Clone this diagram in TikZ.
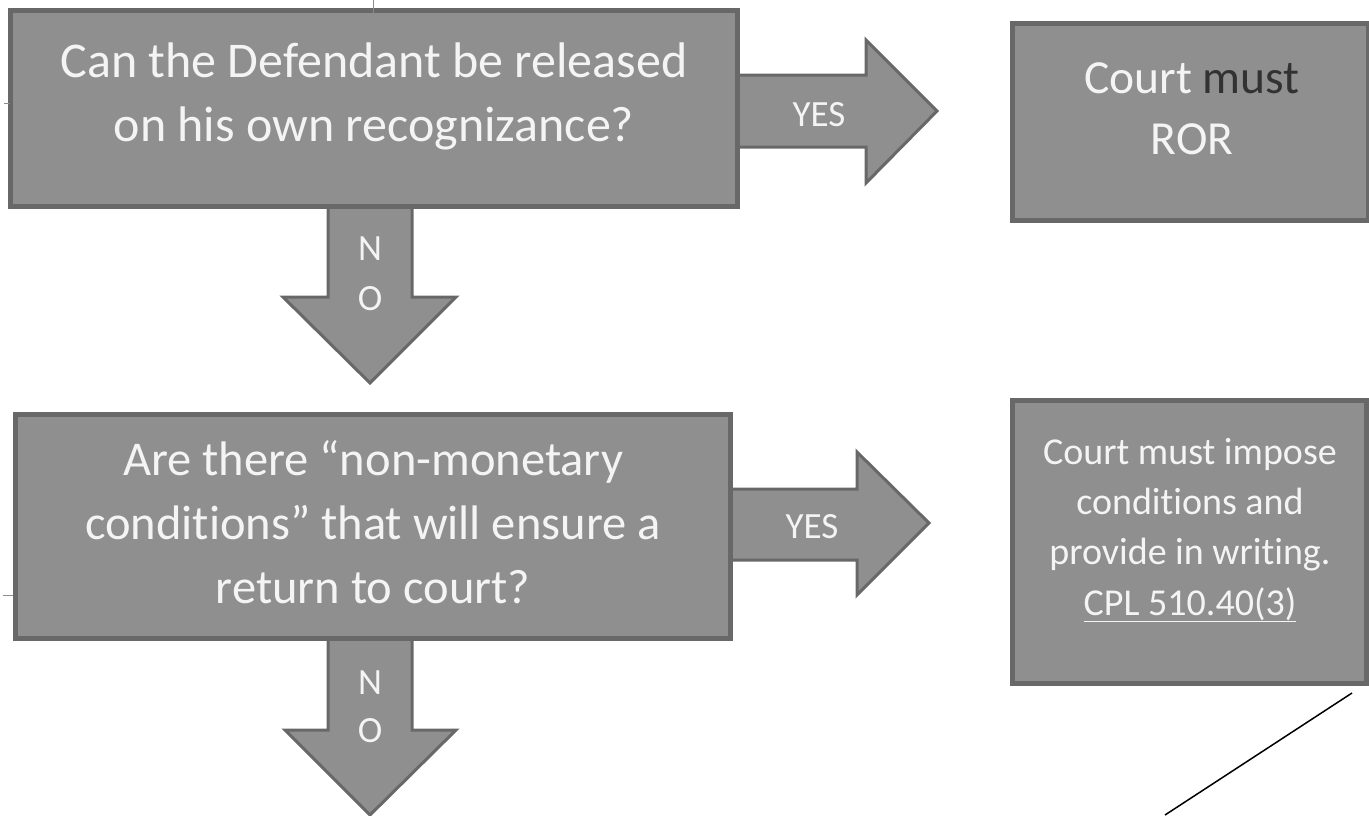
\documentclass[tikz,border=0pt]{standalone}
\usepackage{fontspec}
\setmainfont{Carlito}[Ligatures=NoCommon]
\begin{document}
\definecolor{boxfill}{RGB}{143,143,143}
\definecolor{boxline}{RGB}{104,104,104}
\definecolor{boxtext}{RGB}{244,244,244}
\definecolor{darkword}{RGB}{50,50,50}
\definecolor{tickgray}{RGB}{140,140,140}
\begin{tikzpicture}[x=1pt,y=-1pt,
  box/.style={draw=boxline,fill=boxfill,line width=5pt,inner sep=0pt,outer sep=0pt},
  blockarrow/.style={draw=boxline,fill=boxfill,line width=3pt,line join=miter},
  boxtextstyle/.style={text=boxtext,align=center,inner sep=0pt,anchor=base},
  arrowlabel/.style={text=boxtext,inner sep=0pt,font=\fontsize{37}{44}\selectfont},
  strayline/.style={draw=tickgray,line width=1pt}]
\useasboundingbox (0,0) rectangle (1369,815);

% block arrows between the decision boxes and the outcomes
\draw[blockarrow] (737,75) -- (866,75) -- (866,40) -- (937,111) -- (866,183) -- (866,147) -- (737,147) -- cycle;
\draw[blockarrow] (730,489) -- (857,489) -- (857,452) -- (929,523) -- (857,595) -- (857,560) -- (730,560) -- cycle;
\draw[blockarrow] (328,206) -- (328,297) -- (283,297) -- (370,383) -- (456,297) -- (412,297) -- (412,206) -- cycle;
\draw[blockarrow] (328,638) -- (328,730) -- (285,730) -- (370,815) -- (456,730) -- (412,730) -- (412,638) -- cycle;

% decision and outcome boxes
\node[box,minimum width=727pt,minimum height=196pt] (q1) at (374,108.5) {};
\node[box,minimum width=715pt,minimum height=224pt] (q2) at (373,526.5) {};
\node[box,minimum width=356pt,minimum height=197pt] (ror) at (1190.5,122) {};
\node[box,minimum width=354pt,minimum height=283pt] (cond) at (1189,542) {};

% box texts (anchored at the baseline of their last line)
\node[boxtextstyle,font=\fontsize{50}{64}\selectfont] (q1t) at (374,141)
  {Can the Defendant be released\\on his own recognizance?};
\node[boxtextstyle,font=\fontsize{48.5}{64}\selectfont] (q2t) at (373,603)
  {Are there “non-monetary\\conditions” that will ensure a\\return to court?};
\node[boxtextstyle,font=\fontsize{47.5}{61}\selectfont] (rort) at (1192,154)
  {Court \textcolor{darkword}{must}\\ROR};
\node[boxtextstyle,font=\fontsize{38}{50.3}\selectfont] (condt) at (1190,615)
  {Court must impose\\conditions and\\provide in writing.\\\underline{CPL 510.40(3)}};

% arrow labels
\node[arrowlabel] (yes1) at (819,115) {YES};
\node[arrowlabel] (yes2) at (812,527) {YES};
\node[arrowlabel] (n1) at (370,249) {N};
\node[arrowlabel] (o1) at (370,299) {O};
\node[arrowlabel] (n2) at (370,683) {N};
\node[arrowlabel] (o2) at (370,731) {O};

% stray marks
\draw[strayline] (373,0) -- (373,15);
\draw[strayline] (4,103) -- (10,103);
\draw[strayline] (3,595) -- (13,595);
\draw[black,line width=1.5pt] (1352,693) -- (1165,815);
\end{tikzpicture}
\end{document}
